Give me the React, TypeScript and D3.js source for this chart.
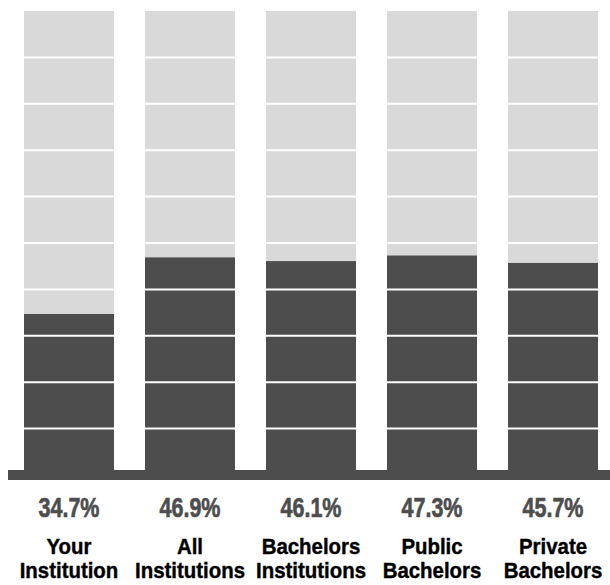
import * as d3 from "d3";
import React from "react";

const categories = [
  ["Your", "Institution"],
  ["All", "Institutions"],
  ["Bachelors", "Institutions"],
  ["Public", "Bachelors"],
  ["Private", "Bachelors"],
];
const values = [34.7, 46.9, 46.1, 47.3, 45.7];
const gridTicks = [10, 20, 30, 40, 50, 60, 70, 80, 90];

const DARK = "#4d4d4d";
const LIGHT = "#d9d9d9";

const App: React.FC = () => {
  const width = 610;
  const height = 585;

  const x = d3
    .scaleBand<number>()
    .domain(d3.range(values.length))
    .range([24, 598])
    .paddingInner(31 / 121)
    .paddingOuter(0);

  const y = d3.scaleLinear().domain([0, 100]).range([475, 11]);

  return (
    <svg
      width={width}
      height={height}
      style={{ position: "absolute", left: 0, top: 0 }}
      fontFamily="'Liberation Sans', Arial, sans-serif"
    >
      {values.map((v, i) => {
        const x0 = x(i)!;
        const bw = x.bandwidth();
        const cx = x0 + bw / 2;
        return (
          <g key={i}>
            {/* background full column */}
            <rect x={x0} y={y(100)} width={bw} height={y(0) - y(100)} fill={LIGHT} />
            {/* value fill */}
            <rect x={x0} y={y(v)} width={bw} height={y(0) - y(v)} fill={DARK} />
            {/* white gridlines */}
            {gridTicks.map((t) => (
              <line
                key={t}
                x1={x0}
                x2={x0 + bw}
                y1={y(t)}
                y2={y(t)}
                stroke="#fff"
                strokeWidth={2}
              />
            ))}
            {/* percentage label */}
            <text
              transform={`translate(${cx},517) scale(1,1.25)`}
              textAnchor="middle"
              fontSize={21.5}
              fontWeight="bold"
              fill={DARK}
              stroke={DARK}
              strokeWidth={0.5}
            >
              {v.toFixed(1)}%
            </text>
            {/* category label */}
            {categories[i].map((line, j) => (
              <text
                key={j}
                transform={`translate(${cx},${554 + j * 24}) scale(0.95,1)`}
                textAnchor="middle"
                fontSize={21.5}
                fontWeight="bold"
                fill="#000"
                stroke="#000"
                strokeWidth={0.4}
              >
                {line}
              </text>
            ))}
          </g>
        );
      })}
      {/* baseline band */}
      <rect x={8} y={470} width={width - 8} height={10} fill={DARK} />
    </svg>
  );
};

export default App;
